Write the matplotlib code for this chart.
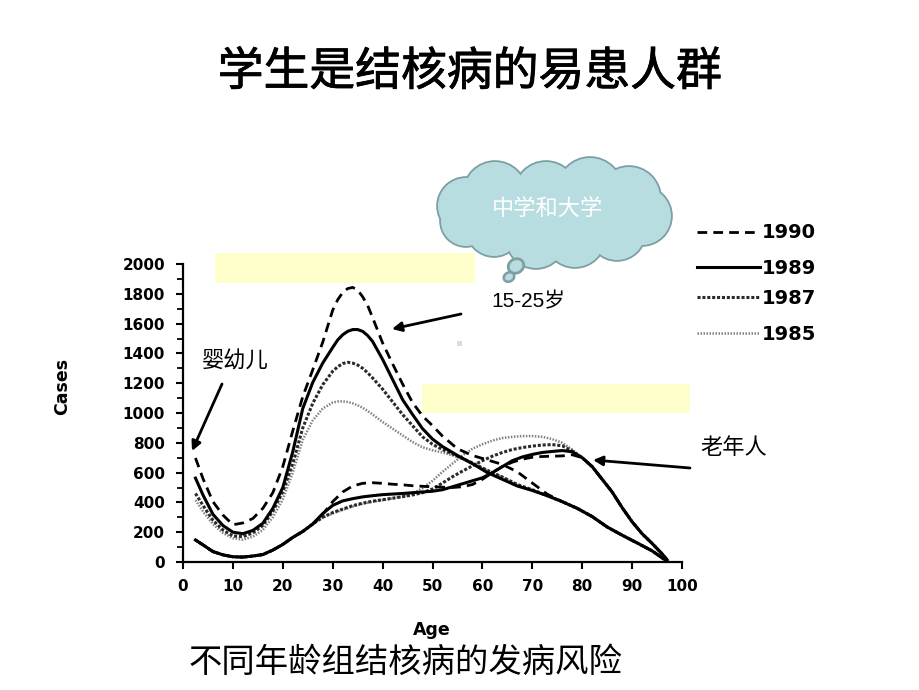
import matplotlib
matplotlib.use("Agg")
import matplotlib.pyplot as plt
import matplotlib.patheffects as pe
from matplotlib.patches import Circle, Ellipse, Rectangle
from matplotlib.lines import Line2D

CJK = ["Noto Sans CJK SC", "DejaVu Sans"]

title = "学生是结核病的易患人群"
caption = "不同年龄组结核病的发病风险"
years = ["1990", "1989", "1987", "1985"]

# young peak curves (children + 15-25 students)
ages_young = [2.5, 4, 6, 8, 10, 12, 14, 16, 18, 20, 22, 24, 26, 28, 30, 31, 32, 33,
              34, 35, 36, 37, 38, 40, 42, 44, 46, 48, 50, 52, 55, 58, 61, 64, 67,
              70, 73, 76, 79, 82, 85, 88, 91, 94, 97]
young_1990 = [698, 560, 405, 315, 250, 262, 292, 360, 465, 640, 880, 1110, 1290,
              1475, 1690, 1760, 1808, 1835, 1843, 1825, 1780, 1722, 1640, 1470,
              1330, 1195, 1070, 980, 915, 845, 760, 715, 685, 655, 605, 530, 455,
              405, 360, 305, 235, 180, 128, 75, 5]
young_1989 = [563, 450, 320, 245, 200, 190, 212, 260, 360, 500, 740, 1030, 1205,
              1335, 1440, 1490, 1525, 1548, 1560, 1560, 1548, 1520, 1480, 1360,
              1225, 1090, 990, 895, 825, 775, 715, 660, 600, 555, 510, 480, 445,
              405, 360, 305, 235, 180, 128, 75, 5]
young_1987 = [460, 380, 280, 215, 175, 170, 195, 245, 340, 470, 660, 900, 1065,
              1190, 1280, 1310, 1332, 1340, 1335, 1322, 1300, 1270, 1235, 1160,
              1075, 990, 915, 840, 790, 755, 710, 665, 615, 570, 520, 485, 445,
              405, 360, 305, 235, 180, 128, 75, 5]
young_1985 = [415, 340, 255, 195, 160, 150, 170, 215, 300, 420, 600, 820, 950,
              1030, 1070, 1077, 1078, 1074, 1065, 1052, 1035, 1014, 990, 940, 895,
              850, 805, 770, 750, 735, 705, 660, 615, 570, 515, 480, 445, 405, 360,
              305, 235, 180, 128, 75, 5]

# old-age peak curves
ages_old = [2.5, 4, 6, 8, 10, 12, 14, 16, 18, 20, 22, 24, 26, 28, 30, 32, 34, 36,
            38, 40, 42, 44, 46, 48, 50, 52, 54, 56, 58, 60, 62, 64, 66, 68, 70, 72,
            74, 76, 78, 80, 82, 84, 86, 88, 90, 92, 94, 96, 97]
old_1990 = [148, 115, 70, 48, 35, 33, 40, 50, 80, 118, 165, 205, 255, 320, 405,
            470, 510, 528, 532, 528, 522, 518, 512, 508, 505, 502, 500, 505, 520,
            555, 600, 640, 670, 690, 703, 708, 710, 712, 720, 700, 640, 555, 470,
            365, 270, 190, 125, 55, 15]
old_1989 = [148, 115, 70, 48, 35, 33, 40, 50, 80, 118, 165, 205, 255, 325, 380,
            410, 425, 437, 445, 452, 456, 460, 465, 470, 475, 485, 505, 525, 545,
            565, 600, 640, 680, 705, 722, 735, 742, 748, 740, 700, 640, 555, 470,
            365, 270, 190, 125, 55, 15]
old_1987 = [148, 115, 70, 48, 35, 33, 40, 50, 80, 118, 165, 205, 255, 300, 332,
            355, 378, 395, 408, 418, 428, 438, 450, 465, 490, 530, 572, 610, 645,
            680, 710, 735, 755, 768, 778, 785, 788, 780, 745, 700, 640, 555, 470,
            365, 270, 190, 125, 55, 15]
old_1985 = [148, 115, 70, 48, 35, 33, 40, 50, 80, 118, 165, 205, 255, 298, 326,
            350, 372, 390, 404, 415, 427, 440, 460, 495, 545, 605, 660, 715, 760,
            790, 815, 832, 840, 845, 845, 840, 825, 800, 755, 700, 640, 555, 470,
            365, 270, 190, 125, 55, 15]

styles = {
    "1990": dict(color="black", lw=2.0, linestyle=(0, (3.5, 2.2))),
    "1989": dict(color="black", lw=2.2, linestyle="-"),
    "1987": dict(color="#2a2a2a", lw=2.2, linestyle=(0, (1.0, 0.6))),
    "1985": dict(color="#808080", lw=1.8, linestyle=(0, (0.6, 0.6))),
}
young = {"1990": young_1990, "1989": young_1989, "1987": young_1987, "1985": young_1985}
old = {"1990": old_1990, "1989": old_1989, "1987": old_1987, "1985": old_1985}

fig = plt.figure(figsize=(9.2, 6.9), dpi=100)
fig.patch.set_facecolor("white")

ax = fig.add_axes([183 / 920, 1 - 562 / 690, (682 - 183) / 920, (562 - 264) / 690])
for y in ["1985", "1987", "1989", "1990"]:
    ax.plot(ages_young, young[y], solid_joinstyle="round", **styles[y])
    ax.plot(ages_old, old[y], solid_joinstyle="round", **styles[y])

ax.set_xlim(0, 100)
ax.set_ylim(0, 2000)
ax.set_xticks(range(0, 101, 10))
ax.set_yticks(range(0, 2001, 200))
ax.set_yticks(range(0, 2001, 100), minor=True)
for s in ["top", "right"]:
    ax.spines[s].set_visible(False)
for s in ["left", "bottom"]:
    ax.spines[s].set_linewidth(1.6)
ax.tick_params(axis="both", which="major", direction="out", length=5, width=1.5,
               labelsize=11)
ax.tick_params(axis="y", which="minor", direction="out", length=4, width=1.3)
ax.tick_params(axis="x", pad=7)
ax.tick_params(axis="y", pad=8)
for lab in ax.get_xticklabels() + ax.get_yticklabels():
    lab.set_fontweight("bold")
ax.set_xlabel("Age", fontsize=12.5, fontweight="bold", va="center")
ax.xaxis.set_label_coords(0.499, -0.228)
ax.set_ylabel("Cases", fontsize=12.5, fontweight="bold", va="center")
ax.yaxis.set_label_coords(-0.2425, 0.59)

# overlay in pixel coordinates for slide decorations
ov = fig.add_axes([0, 0, 1, 1], zorder=5)
ov.set_xlim(0, 920)
ov.set_ylim(690, 0)
ov.axis("off")
ov.patch.set_alpha(0)

ov.text(470, 72, title, ha="center", va="center", fontsize=33, family=CJK,
        fontweight="normal",
        path_effects=[pe.withStroke(linewidth=0.6, foreground="black")])
ov.text(406, 662, caption, ha="center", va="center", fontsize=24, family=CJK)

ov.add_patch(Rectangle((215, 253), 260, 30, color="#ffffcc", lw=0))
ov.add_patch(Rectangle((422, 384), 268, 29, color="#ffffcc", lw=0))
ov.add_patch(Rectangle((457, 341), 5, 5, color="#dcdcdc", lw=0))

# cloud
fill_c = "#b7dde0"
edge_c = "#7e9ea3"
lobes = [(466, 206, 28), (495, 193, 31), (546, 193, 31), (590, 190, 32),
         (629, 198, 31), (642, 216, 29), (617, 232, 28), (575, 237, 30),
         (536, 239, 29), (494, 229, 27), (466, 221, 25)]
for cx, cy, r in lobes:
    ov.add_patch(Circle((cx, cy), r, facecolor=fill_c, edgecolor=edge_c, lw=2.6,
                        zorder=2))
for cx, cy, r in lobes:
    ov.add_patch(Circle((cx, cy), r, facecolor=fill_c, edgecolor="none", zorder=3))
ov.add_patch(Ellipse((555, 212), 190, 70, facecolor=fill_c, edgecolor="none",
                     zorder=3))
ov.add_patch(Ellipse((516, 266), 16, 14, angle=-30, facecolor=fill_c,
                     edgecolor=edge_c, lw=2, zorder=4))
ov.add_patch(Ellipse((509, 277), 11, 9, angle=-30, facecolor=fill_c,
                     edgecolor=edge_c, lw=1.8, zorder=4))
ov.text(548, 209, "中学和大学", ha="center", va="center", fontsize=16,
        family=CJK, color="white", zorder=5)

# annotations
ov.text(528, 302, "15-25岁", ha="center", va="center", fontsize=15,
        family=["Liberation Sans", "Noto Sans CJK SC"])
ov.text(235, 361, "婴幼儿", ha="center", va="center", fontsize=16, family=CJK)
ov.text(734, 447, "老年人", ha="center", va="center", fontsize=16, family=CJK)
arrow = dict(arrowstyle="-|>", color="black", lw=2, mutation_scale=14,
             shrinkA=0, shrinkB=0)
ov.annotate("", xy=(392, 329), xytext=(461, 314), arrowprops=arrow)
ov.annotate("", xy=(192, 451), xytext=(222, 384), arrowprops=arrow)
ov.annotate("", xy=(593, 460), xytext=(690, 468), arrowprops=arrow)

# legend
leg_y = [232, 267, 297, 333]
for y, yr in zip(leg_y, years):
    ov.add_line(Line2D([697, 760], [y, y], **styles[yr]))
    ov.text(762, y + 1, yr, ha="left", va="center", fontsize=14,
            fontweight="bold")

fig.savefig("out.png", dpi=100)
